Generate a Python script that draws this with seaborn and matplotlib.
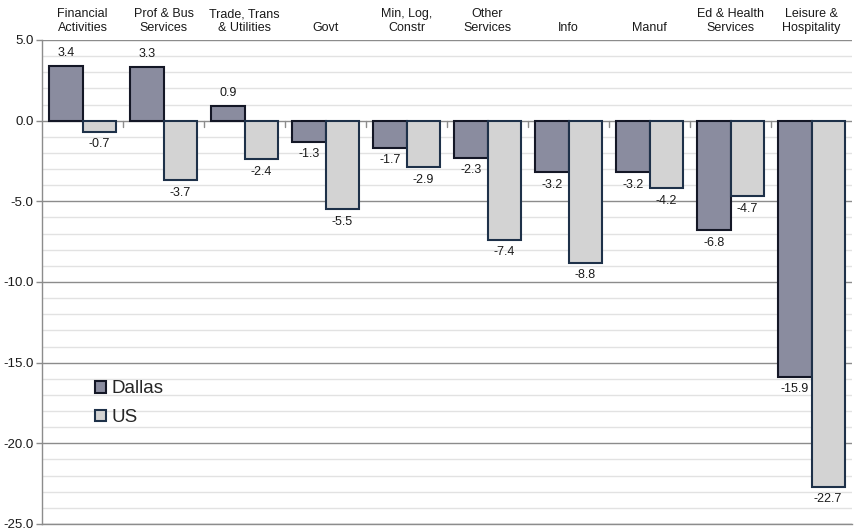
import matplotlib
matplotlib.use("Agg")
import matplotlib.pyplot as plt
import matplotlib.transforms as mtransforms
from matplotlib.patches import Patch
import seaborn as sns
import pandas as pd
import numpy as np

categories = ["Financial\nActivities", "Prof & Bus\nServices", "Trade, Trans\n& Utilities",
              "Govt", "Min, Log,\nConstr", "Other\nServices", "Info", "Manuf",
              "Ed & Health\nServices", "Leisure &\nHospitality"]
dallas = [3.4, 3.3, 0.9, -1.3, -1.7, -2.3, -3.2, -3.2, -6.8, -15.9]
us = [-0.7, -3.7, -2.4, -5.5, -2.9, -7.4, -8.8, -4.2, -4.7, -22.7]
series = ["Dallas", "US"]
y_ticks = [5.0, 0.0, -5.0, -10.0, -15.0, -20.0, -25.0]

df = pd.DataFrame({
    "category": categories * 2,
    "series": ["Dallas"] * len(categories) + ["US"] * len(categories),
    "value": dallas + us,
})

sns.set_theme(style="white")
plt.rcParams["font.family"] = ["Liberation Sans", "DejaVu Sans"]

fill = {"Dallas": "#8a8c9f", "US": "#d3d3d3"}
edge = {"Dallas": "#141726", "US": "#1e3149"}
text_color = "#1a1a1a"

fig = plt.figure(figsize=(8.55, 5.31), dpi=100)
ax = fig.add_axes([42 / 855, 1 - 524 / 531, 810 / 855, 484 / 531])

# gridlines: light minor every 1, darker major every 5
for v in np.arange(-25, 5.01, 1.0):
    major = abs(v % 5) < 1e-9
    ax.axhline(v, color="#8c8c8c" if major else "#e2e2e2", lw=1.0, zorder=0)

sns.barplot(data=df, x="category", y="value", hue="series", order=categories,
            hue_order=series, palette=fill, width=0.815, saturation=1,
            edgecolor="none", ax=ax, legend=False, zorder=2)

for container, s in zip(ax.containers, series):
    for bar in container:
        bar.set_edgecolor(edge[s])
        bar.set_linewidth(1.5)

# value labels
for container, vals in zip(ax.containers, [dallas, us]):
    for bar, v in zip(container, vals):
        xc = bar.get_x() + bar.get_width() / 2
        if v >= 0:
            ax.annotate(f"{v:.1f}", (xc, v), xytext=(0, 5), textcoords="offset points",
                        ha="center", va="bottom", fontsize=9, color=text_color)
        else:
            ax.annotate(f"{v:.1f}", (xc, v), xytext=(0, -4.5), textcoords="offset points",
                        ha="center", va="top", fontsize=9, color=text_color)

# category names above the plot area
trans = mtransforms.blended_transform_factory(ax.transData, ax.transAxes)
for i, c in enumerate(categories):
    ax.text(i, 1.012, c, transform=trans, ha="center", va="bottom",
            fontsize=9, color=text_color, linespacing=1.2)

# small ticks at category boundaries on the zero line
for b in np.arange(0.5, len(categories) - 0.5, 1.0):
    ax.plot([b, b], [0, -0.4], color="#8c8c8c", lw=1.0, zorder=1)

ax.set_xlim(-0.5, len(categories) - 0.5)
ax.set_ylim(-25, 5)
ax.set_yticks(y_ticks)
ax.set_yticklabels([f"{t:.1f}" for t in y_ticks], fontsize=9.5, color=text_color)
ax.set_xticks([])
ax.set_xlabel("")
ax.set_ylabel("")
ax.tick_params(axis="y", length=4, width=1, color="#8c8c8c", pad=2, left=True)
for side in ["top", "right"]:
    ax.spines[side].set_visible(False)
for side in ["left", "bottom"]:
    ax.spines[side].set_color("#8c8c8c")
    ax.spines[side].set_linewidth(1.0)

handles = [Patch(facecolor=fill[s], edgecolor=edge[s], linewidth=1.5, label=s) for s in series]
ax.legend(handles=handles, loc="upper left", bbox_to_anchor=(0.056, 0.312),
          frameon=False, fontsize=13.5, handlelength=0.6, handleheight=0.6,
          handletextpad=0.3, labelspacing=0.62, borderaxespad=0)

fig.savefig("out.png", dpi=100)
